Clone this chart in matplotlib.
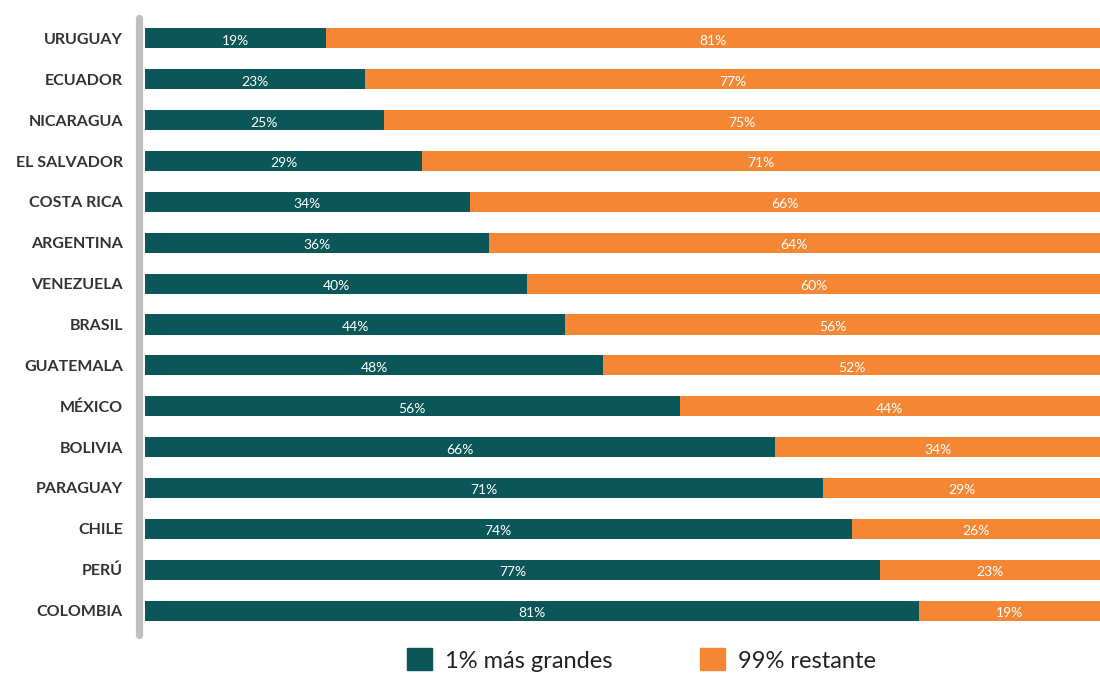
import numpy as np
import matplotlib.pyplot as plt
from matplotlib.lines import Line2D
from matplotlib.patches import Patch

# participación del 1% de empresas más grandes vs el resto
paises = ['URUGUAY', 'ECUADOR', 'NICARAGUA', 'EL SALVADOR', 'COSTA RICA',
          'ARGENTINA', 'VENEZUELA', 'BRASIL', 'GUATEMALA', 'MÉXICO',
          'BOLIVIA', 'PARAGUAY', 'CHILE', 'PERÚ', 'COLOMBIA']
top1 = [19, 23, 25, 29, 34, 36, 40, 44, 48, 56, 66, 71, 74, 77, 81]
resto = [81, 77, 75, 71, 66, 64, 60, 56, 52, 44, 34, 29, 26, 23, 19]

c_top = '#0b5658'
c_resto = '#f58634'

plt.rcParams['font.family'] = ['Lato', 'DejaVu Sans']

W, H = 1100, 673
fig = plt.figure(figsize=(W / 100, H / 100), dpi=100)
ax = fig.add_axes([145 / W, 1 - 631 / H, 1 - 145 / W, 613 / H])

y = np.arange(len(paises))
alto = 0.49
ax.barh(y, top1, height=alto, color=c_top, edgecolor='none')
ax.barh(y, resto, left=top1, height=alto, color=c_resto, edgecolor='none')

for i in range(len(paises)):
    ax.text(top1[i] / 2, y[i] + 0.06, f'{top1[i]}%', color='white',
            ha='center', va='center', fontsize=10)
    ax.text(top1[i] + resto[i] / 2, y[i] + 0.06, f'{resto[i]}%', color='white',
            ha='center', va='center', fontsize=10)

ax.set_xlim(0, 100)
ax.set_ylim(len(paises) - 0.5, -0.5)
ax.set_yticks(y)
ax.set_yticklabels(paises, fontsize=11.5, fontweight='bold', color='#333333')
ax.tick_params(axis='y', length=0, pad=16)
ax.set_xticks([])
for s in ax.spines.values():
    s.set_visible(False)

# barra gris vertical a la izquierda
fig.add_artist(Line2D([139 / W, 139 / W], [1 - 18 / H, 1 - 635 / H],
                      transform=fig.transFigure, color='#bcbec0',
                      lw=5.2, solid_capstyle='round'))

handles = [Patch(color=c_top, label='1% más grandes'),
           Patch(color=c_resto, label='99% restante')]
fig.legend(handles=handles, loc='center', bbox_to_anchor=(0.583, 1 - 660 / H),
           ncol=2, frameon=False, fontsize=17, handlelength=1.05,
           handleheight=1.05, columnspacing=3.7, handletextpad=0.55,
           labelcolor='#222222')

fig.savefig('out.png', dpi=100)
